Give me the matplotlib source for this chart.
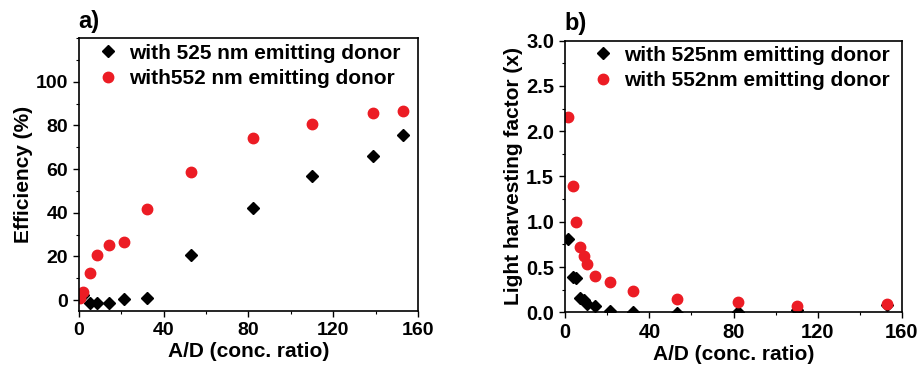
import matplotlib
matplotlib.use("Agg")
import matplotlib.pyplot as plt
from matplotlib.ticker import MultipleLocator, FormatStrFormatter

plt.rcParams['font.family'] = ['Liberation Sans', 'DejaVu Sans']
plt.rcParams['font.weight'] = 'bold'

# panel a: efficiency
a_x_525 = [2, 5, 8.5, 14, 21, 32, 53, 82, 110, 139, 153]
a_y_525 = [2.5, -1.5, -1.5, -1.5, 0.5, 1, 20.5, 42, 57, 66, 75.5]
a_x_552 = [0.3, 2, 5, 8.5, 14, 21, 32, 53, 82, 110, 139, 153]
a_y_552 = [1, 3.5, 12.5, 20.5, 25, 26.5, 41.5, 58.5, 74, 80.5, 85.5, 86.5]

# panel b: light harvesting factor
b_x = [1.4, 3.5, 5.2, 7, 8.7, 10.5, 14, 21.4, 32, 53, 82, 110, 153]
b_y_525 = [0.81, 0.39, 0.38, 0.155, 0.136, 0.092, 0.07, 0.018, 0.005, -0.01, 0.007, 0.03, 0.08]
b_y_552 = [2.16, 1.40, 1.00, 0.72, 0.62, 0.53, 0.40, 0.33, 0.24, 0.147, 0.118, 0.07, 0.088]

red = '#ec1c24'
lfs = 15   # labels / legend

fig = plt.figure(figsize=(9.21, 3.68), dpi=100)
ax1 = fig.add_axes([0.0858, 0.1549, 0.368, 0.7418])
ax2 = fig.add_axes([0.6138, 0.1514, 0.3653, 0.738])


def style(ax, tfs):
    ax.tick_params(which='both', direction='out', top=False, right=False, labelsize=tfs)
    ax.tick_params(which='major', length=4, width=1, pad=4)
    ax.tick_params(which='minor', length=2.5, width=0.8)
    for s in ax.spines.values():
        s.set_linewidth(1.2)
    ax.set_xlim(0, 160)
    ax.xaxis.set_major_locator(MultipleLocator(40))
    ax.xaxis.set_minor_locator(MultipleLocator(20))
    ax.set_xlabel('A/D (conc. ratio)', fontsize=lfs, fontweight='bold', labelpad=2)
    for lab in ax.get_xticklabels() + ax.get_yticklabels():
        lab.set_fontweight('bold')


ax1.plot(a_x_525, a_y_525, 'D', color='black', ms=6.5, ls='none', label='with 525 nm emitting donor')
ax1.plot(a_x_552, a_y_552, 'o', color=red, ms=7.5, ls='none', label='with552 nm emitting donor')
ax1.set_ylim(-5, 120)
ax1.set_yticks([0, 20, 40, 60, 80, 100])
ax1.yaxis.set_minor_locator(MultipleLocator(10))
ax1.set_ylabel('Efficiency (%)', fontsize=lfs, fontweight='bold', labelpad=2)
style(ax1, 14)
ax1.legend(loc='upper left', frameon=False, fontsize=lfs, handlelength=1.0, handletextpad=0.5,
           borderaxespad=0, bbox_to_anchor=(0.03, 1.01), labelspacing=0.3)
ax1.text(-0.003, 1.02, 'a)', transform=ax1.transAxes, fontsize=17, fontweight='bold',
         ha='left', va='bottom')

ax2.plot(b_x, b_y_525, 'D', color='black', ms=6.5, ls='none', label='with 525nm emitting donor')
ax2.plot(b_x, b_y_552, 'o', color=red, ms=7.5, ls='none', label='with 552nm emitting donor')
ax2.set_ylim(0, 3.0)
ax2.yaxis.set_major_locator(MultipleLocator(0.5))
ax2.yaxis.set_minor_locator(MultipleLocator(0.25))
ax2.yaxis.set_major_formatter(FormatStrFormatter('%.1f'))
ax2.set_ylabel('Light harvesting factor (x)', fontsize=lfs, fontweight='bold', labelpad=2)
style(ax2, 14.5)
ax2.legend(loc='upper left', frameon=False, fontsize=lfs, handlelength=1.0, handletextpad=0.5,
           borderaxespad=0, bbox_to_anchor=(0.057, 1.012), labelspacing=0.3)
ax2.text(-0.003, 1.02, 'b)', transform=ax2.transAxes, fontsize=17, fontweight='bold',
         ha='left', va='bottom')

fig.savefig('out.png', dpi=100)
